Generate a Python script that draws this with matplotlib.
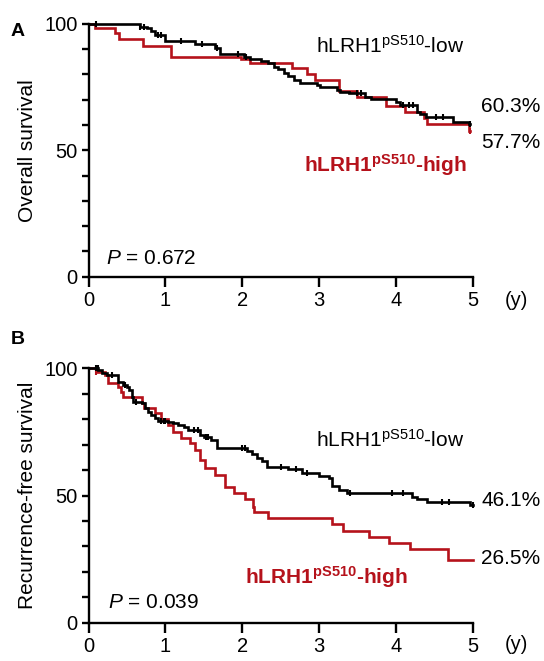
import numpy as np
import matplotlib
matplotlib.use("Agg")
import matplotlib.pyplot as plt

plt.rcParams['font.family'] = ['Liberation Sans', 'DejaVu Sans']
plt.rcParams['mathtext.fontset'] = 'custom'
plt.rcParams['mathtext.rm'] = 'Liberation Sans'
plt.rcParams['mathtext.it'] = 'Liberation Sans:italic'
plt.rcParams['mathtext.bf'] = 'Liberation Sans:bold'

RED = '#b5121b'
BLACK = '#000000'

# ---- Panel A: overall survival ----
os_low_t = [0, 0.67, 0.76, 0.82, 0.87, 1.0, 1.39, 1.65, 1.71, 2.02, 2.1, 2.24, 2.34, 2.41, 2.47,
            2.54, 2.6, 2.67, 2.76, 2.98, 3.02, 3.24, 3.28, 3.39, 3.6, 3.68, 4.0, 4.06, 4.28, 4.32,
            4.39, 4.74, 4.95, 4.97]
os_low_s = [100, 98.8, 98.2, 97.2, 95.5, 93.3, 91.8, 90.3, 87.9, 86.7, 85.9, 85.3, 84.3, 83.0, 82.0,
            80.6, 79.3, 77.7, 76.7, 75.8, 75.1, 73.8, 73.1, 72.5, 70.9, 70.1, 69.0, 67.9, 65.2, 64.2,
            63.2, 61.3, 60.3, 60.3]
os_low_cens = [0.1, 0.67, 0.72, 0.9, 0.95, 1.21, 1.48, 1.67, 1.95, 2.05, 3.5, 3.55, 4.1, 4.17,
               4.23, 4.52, 4.61, 4.97]

os_high_t = [0, 0.08, 0.35, 0.4, 0.71, 1.07, 1.98, 2.1, 2.65, 2.85, 2.95, 3.26, 3.5, 3.87, 4.12,
             4.37, 4.41, 4.95, 4.97]
os_high_s = [100, 98.2, 96.2, 94.0, 91.3, 86.8, 85.9, 84.6, 82.4, 80.2, 77.8, 73.6, 71.0, 67.5, 65.3,
             62.6, 60.3, 57.7, 57.7]
os_high_cens = [4.97]

# ---- Panel B: recurrence-free survival ----
rfs_low_t = [0, 0.13, 0.17, 0.24, 0.39, 0.45, 0.5, 0.53, 0.56, 0.58, 0.69, 0.74, 0.78, 0.82, 0.87,
             0.91, 1.04, 1.1, 1.17, 1.24, 1.3, 1.45, 1.5, 1.6, 1.67, 2.06, 2.13, 2.19, 2.26, 2.32,
             2.6, 2.78, 3.0, 3.13, 3.17, 3.26, 3.37, 4.21, 4.28, 4.41, 4.97, 5.0]
rfs_low_s = [100, 99.3, 98.3, 97.2, 94.7, 93.4, 92.5, 91.4, 88.8, 86.9, 86.2, 84.3, 82.9, 81.6, 80.3,
             79.4, 79.0, 78.4, 77.7, 76.8, 75.7, 73.8, 72.9, 71.8, 68.5, 67.5, 66.2, 64.9, 63.6, 61.3,
             60.3, 58.7, 57.7, 56.8, 53.8, 52.2, 51.1, 49.5, 48.5, 47.4, 46.1, 46.1]
rfs_low_cens = [0.1, 0.12, 0.3, 0.47, 0.62, 0.95, 0.98, 1.0, 1.37, 1.42, 1.53, 1.56, 2.0, 2.04,
                2.5, 2.7, 2.85, 3.4, 3.95, 4.1, 4.6, 4.7, 5.0]

rfs_high_t = [0, 0.1, 0.22, 0.26, 0.39, 0.42, 0.45, 0.69, 0.72, 0.87, 0.95, 1.04, 1.1, 1.21, 1.32,
              1.39, 1.45, 1.52, 1.65, 1.78, 1.89, 2.04, 2.14, 2.16, 2.34, 3.17, 3.32, 3.65, 3.91,
              4.19, 4.68, 5.0]
rfs_high_s = [100, 98.7, 97.4, 94.1, 92.8, 90.8, 88.8, 86.5, 84.3, 82.3, 80.0, 77.7, 75.1, 72.5, 70.5,
              67.9, 64.0, 60.7, 58.0, 53.5, 50.9, 48.5, 45.6, 43.6, 41.0, 39.0, 36.2, 33.8, 31.3,
              28.8, 24.6, 24.6]
rfs_high_cens = [0.1]

x_ticks = [0, 1, 2, 3, 4, 5]
y_ticks = [0, 50, 100]


def px(x, y):
    return x / 544.0, 1 - y / 661.0


def surv_at(t_arr, s_arr, tc):
    idx = np.searchsorted(np.asarray(t_arr), tc, side='right') - 1
    return np.asarray(s_arr)[idx]


def draw_curve(ax, t, s, cens, color):
    ax.step(t, s, where='post', color=color, lw=1.9, clip_on=False, solid_joinstyle='miter')
    cs = surv_at(t, s, np.asarray(cens))
    ax.plot(cens, cs, ls='none', marker='|', ms=5, mew=1.5, color=color, clip_on=False)


def style_axes(ax, ylabel):
    ax.set_xlim(0, 5)
    ax.set_ylim(0, 100)
    for sp in ['top', 'right']:
        ax.spines[sp].set_visible(False)
    for sp in ['left', 'bottom']:
        ax.spines[sp].set_linewidth(1.7)
    ax.set_xticks(x_ticks)
    ax.set_xticklabels([str(v) for v in x_ticks])
    ax.set_yticks(y_ticks)
    ax.set_yticks(np.arange(0, 101, 10), minor=True)
    ax.tick_params(axis='x', length=7, width=1.7, labelsize=14.5, pad=3)
    ax.tick_params(axis='y', which='major', length=5, width=1.7, labelsize=14.5, pad=3)
    ax.tick_params(axis='y', which='minor', length=5, width=1.7)
    ax.set_ylabel(ylabel, fontsize=15, labelpad=5)


fig = plt.figure(figsize=(5.44, 6.61), dpi=100)
axA = fig.add_axes([0.1627, 0.5814, 0.7059, 0.3827])
axB = fig.add_axes([0.1627, 0.0579, 0.7059, 0.3849])

draw_curve(axA, os_high_t, os_high_s, os_high_cens, RED)
draw_curve(axA, os_low_t, os_low_s, os_low_cens, BLACK)
style_axes(axA, 'Overall survival')

draw_curve(axB, rfs_high_t, rfs_high_s, rfs_high_cens, RED)
draw_curve(axB, rfs_low_t, rfs_low_s, rfs_low_cens, BLACK)
style_axes(axB, 'Recurrence-free survival')

fs = 15
# panel letters
fig.text(*px(11, 32), 'A', fontsize=14, fontweight='bold', va='center', ha='left')
fig.text(*px(11, 340), 'B', fontsize=14, fontweight='bold', va='center', ha='left')

# (y) labels
fig.text(*px(505, 300), '(y)', fontsize=14.5, va='center', ha='left')
fig.text(*px(505, 645), '(y)', fontsize=14.5, va='center', ha='left')

# group labels
low_lbl = r'hLRH1$^{\mathrm{pS510}}$-low'
high_lbl = r'hLRH1$^{\mathbf{pS510}}$-high'
fig.text(*px(316, 46), low_lbl, fontsize=fs, va='center', ha='left')
fig.text(*px(304, 165), high_lbl, fontsize=fs, va='center', ha='left', color=RED, fontweight='bold')
fig.text(*px(316, 440), low_lbl, fontsize=fs, va='center', ha='left')
fig.text(*px(245, 577), high_lbl, fontsize=fs, va='center', ha='left', color=RED, fontweight='bold')

# percentages
fig.text(*px(481, 107), '60.3%', fontsize=fs, va='center', ha='left')
fig.text(*px(481, 142), '57.7%', fontsize=fs, va='center', ha='left')
fig.text(*px(481, 500), '46.1%', fontsize=fs, va='center', ha='left')
fig.text(*px(481, 558), '26.5%', fontsize=fs, va='center', ha='left')

# P values
fig.text(*px(106, 258), r'$\it{P}$ = 0.672', fontsize=fs, va='center', ha='left')
fig.text(*px(108, 603), r'$\it{P}$ = 0.039', fontsize=fs, va='center', ha='left')

fig.savefig('out.png', dpi=100)
